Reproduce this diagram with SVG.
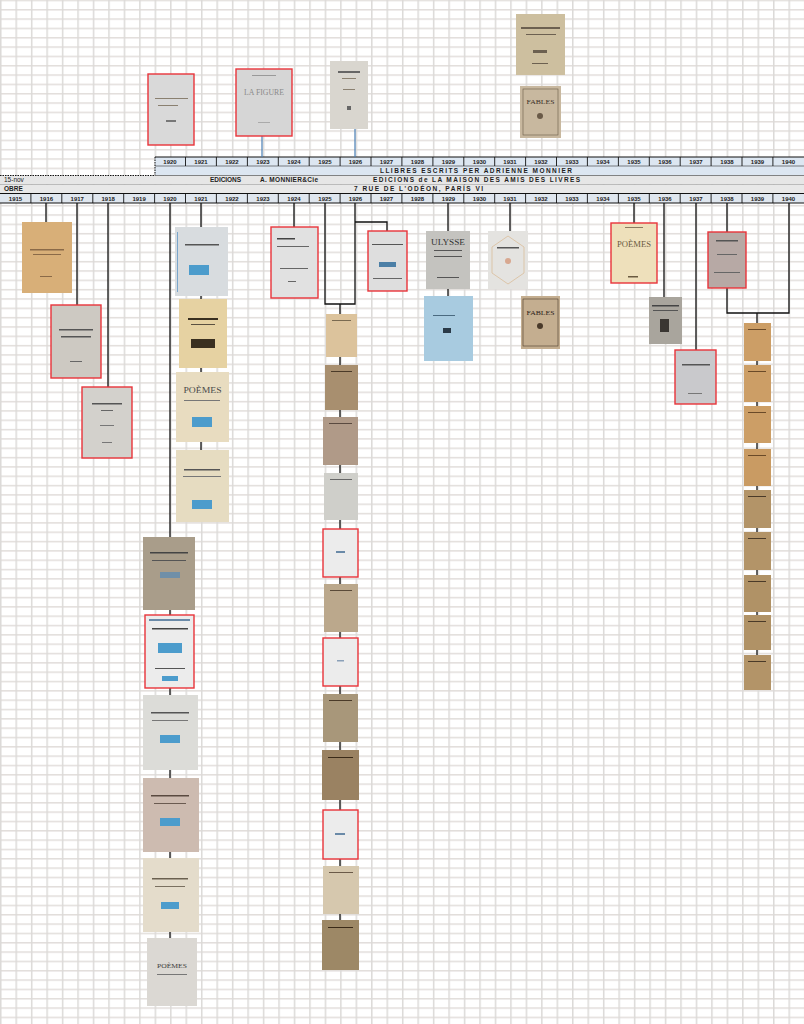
<svg xmlns="http://www.w3.org/2000/svg" width="804" height="1024" viewBox="0 0 804 1024">
<style>
.yr{font-family:"Liberation Sans",Arial,sans-serif;font-size:6px;font-weight:bold;fill:#222;text-anchor:middle}
.hd{font-family:"Liberation Sans",Arial,sans-serif;font-size:6.5px;font-weight:bold;fill:#1e1e1e}
.cn{fill:none;stroke:#111;stroke-width:1.3}
.bl{fill:none;stroke:#4a7fb5;stroke-width:1.2}
.bk{stroke:none}
.red{stroke:#e8343a;stroke-width:1.4}
.ttl{font-family:"Liberation Serif","Times New Roman",serif;text-anchor:middle}
.pr{fill:#8a8070}
.stamp{fill:#4c9ccc}
.div{stroke:#111;stroke-width:0.9}
</style>
<defs>
<pattern id="grid" patternUnits="userSpaceOnUse" x="0" y="-0.33" width="15.46" height="9.33">
<rect x="0" y="0" width="15.46" height="9.33" fill="#ffffff"/>
<rect x="0" y="0" width="15.46" height="1.5" fill="#e2dedb"/>
<rect x="0" y="0" width="1.5" height="9.33" fill="#dcdad8"/>
</pattern>
</defs>
<rect x="0" y="0" width="804" height="1024" fill="url(#grid)"/>

<g id="header">
<rect x="155" y="157" width="649" height="9" fill="#dce6f1"/>
<rect x="155" y="166" width="649" height="9.5" fill="#dce6f1"/>
<rect x="0" y="175.5" width="804" height="9" fill="#e6e6e6"/>
<rect x="0" y="184.5" width="804" height="9" fill="#e8e8e8"/>
<rect x="0" y="193.5" width="804" height="9.5" fill="#dfe6ee"/>
<line x1="155" y1="157" x2="804" y2="157" stroke="#111" stroke-width="1.2"/>
<line x1="155" y1="166" x2="804" y2="166" stroke="#333" stroke-width="0.6"/>
<line x1="155" y1="157" x2="155" y2="175.5" stroke="#111" stroke-width="1" stroke-dasharray="1.5 1"/>
<line x1="0" y1="175.5" x2="155" y2="175.5" stroke="#111" stroke-width="1" stroke-dasharray="1.5 1"/>
<line x1="155" y1="175.5" x2="804" y2="175.5" stroke="#555" stroke-width="0.7"/>
<line x1="0" y1="184.5" x2="804" y2="184.5" stroke="#999" stroke-width="0.6"/>
<line x1="0" y1="193.5" x2="804" y2="193.5" stroke="#111" stroke-width="1"/>
<line x1="0" y1="203" x2="804" y2="203" stroke="#111" stroke-width="1"/>
<g class="div">
<line x1="185.5" y1="157" x2="185.5" y2="166"/><line x1="216.4" y1="157" x2="216.4" y2="166"/><line x1="247.4" y1="157" x2="247.4" y2="166"/><line x1="278.3" y1="157" x2="278.3" y2="166"/><line x1="309.2" y1="157" x2="309.2" y2="166"/><line x1="340.1" y1="157" x2="340.1" y2="166"/><line x1="371" y1="157" x2="371" y2="166"/><line x1="401.9" y1="157" x2="401.9" y2="166"/><line x1="432.9" y1="157" x2="432.9" y2="166"/><line x1="463.8" y1="157" x2="463.8" y2="166"/><line x1="494.7" y1="157" x2="494.7" y2="166"/><line x1="525.6" y1="157" x2="525.6" y2="166"/><line x1="556.5" y1="157" x2="556.5" y2="166"/><line x1="587.4" y1="157" x2="587.4" y2="166"/><line x1="618.4" y1="157" x2="618.4" y2="166"/><line x1="649.3" y1="157" x2="649.3" y2="166"/><line x1="680.2" y1="157" x2="680.2" y2="166"/><line x1="711.1" y1="157" x2="711.1" y2="166"/><line x1="742" y1="157" x2="742" y2="166"/><line x1="772.9" y1="157" x2="772.9" y2="166"/>
<line x1="30.9" y1="193.5" x2="30.9" y2="203"/><line x1="61.8" y1="193.5" x2="61.8" y2="203"/><line x1="92.8" y1="193.5" x2="92.8" y2="203"/><line x1="123.7" y1="193.5" x2="123.7" y2="203"/><line x1="154.6" y1="193.5" x2="154.6" y2="203"/><line x1="185.5" y1="193.5" x2="185.5" y2="203"/><line x1="216.4" y1="193.5" x2="216.4" y2="203"/><line x1="247.4" y1="193.5" x2="247.4" y2="203"/><line x1="278.3" y1="193.5" x2="278.3" y2="203"/><line x1="309.2" y1="193.5" x2="309.2" y2="203"/><line x1="340.1" y1="193.5" x2="340.1" y2="203"/><line x1="371" y1="193.5" x2="371" y2="203"/><line x1="401.9" y1="193.5" x2="401.9" y2="203"/><line x1="432.9" y1="193.5" x2="432.9" y2="203"/><line x1="463.8" y1="193.5" x2="463.8" y2="203"/><line x1="494.7" y1="193.5" x2="494.7" y2="203"/><line x1="525.6" y1="193.5" x2="525.6" y2="203"/><line x1="556.5" y1="193.5" x2="556.5" y2="203"/><line x1="587.4" y1="193.5" x2="587.4" y2="203"/><line x1="618.4" y1="193.5" x2="618.4" y2="203"/><line x1="649.3" y1="193.5" x2="649.3" y2="203"/><line x1="680.2" y1="193.5" x2="680.2" y2="203"/><line x1="711.1" y1="193.5" x2="711.1" y2="203"/><line x1="742" y1="193.5" x2="742" y2="203"/><line x1="772.9" y1="193.5" x2="772.9" y2="203"/>
</g>
<g class="yr">
<text x="170" y="163.8">1920</text><text x="201" y="163.8">1921</text><text x="232" y="163.8">1922</text><text x="263" y="163.8">1923</text><text x="294" y="163.8">1924</text><text x="325" y="163.8">1925</text><text x="355.5" y="163.8">1926</text><text x="386.5" y="163.8">1927</text><text x="417.5" y="163.8">1928</text><text x="448.5" y="163.8">1929</text><text x="479.5" y="163.8">1930</text><text x="510" y="163.8">1931</text><text x="541" y="163.8">1932</text><text x="572" y="163.8">1933</text><text x="603" y="163.8">1934</text><text x="634" y="163.8">1935</text><text x="665" y="163.8">1936</text><text x="696" y="163.8">1937</text><text x="727" y="163.8">1938</text><text x="757.5" y="163.8">1939</text><text x="788.5" y="163.8">1940</text>
<text x="15.5" y="200.8">1915</text><text x="46.4" y="200.8">1916</text><text x="77.3" y="200.8">1917</text><text x="108.2" y="200.8">1918</text><text x="139.1" y="200.8">1919</text><text x="170" y="200.8">1920</text><text x="201" y="200.8">1921</text><text x="232" y="200.8">1922</text><text x="263" y="200.8">1923</text><text x="294" y="200.8">1924</text><text x="325" y="200.8">1925</text><text x="355.5" y="200.8">1926</text><text x="386.5" y="200.8">1927</text><text x="417.5" y="200.8">1928</text><text x="448.5" y="200.8">1929</text><text x="479.5" y="200.8">1930</text><text x="510" y="200.8">1931</text><text x="541" y="200.8">1932</text><text x="572" y="200.8">1933</text><text x="603" y="200.8">1934</text><text x="634" y="200.8">1935</text><text x="665" y="200.8">1936</text><text x="696" y="200.8">1937</text><text x="727" y="200.8">1938</text><text x="757.5" y="200.8">1939</text><text x="788.5" y="200.8">1940</text>
</g>
<text class="hd" x="380" y="173" textLength="192" lengthAdjust="spacing">LLIBRES ESCRITS PER   ADRIENNE MONNIER</text>
<text class="hd" x="4" y="182.3" style="font-weight:normal">15-nov</text>
<text class="hd" x="210" y="182.3" textLength="31" lengthAdjust="spacing">EDICIONS</text>
<text class="hd" x="260" y="182.3" textLength="58" lengthAdjust="spacing">A. MONNIER&amp;Cie</text>
<text class="hd" x="373" y="182.3" textLength="207" lengthAdjust="spacing">EDICIONS de LA MAISON DES AMIS DES LIVRES</text>
<text class="hd" x="4" y="191.3">OBRE</text>
<text class="hd" x="354" y="191.3" textLength="129" lengthAdjust="spacing">7 RUE DE L'ODÉON,  PARÍS VI</text>
</g>

<g id="connectors">
<path class="bl" d="M262,136 V157 M355,129 V157"/>
<path class="cn" d="M46,203 V222 M77,203 V305 M108,203 V387"/>
<path class="cn" d="M170,203 V940 M201,203 V452 M294,203 V227"/>
<path class="cn" d="M325,203 V304 H355 V203 M340,304 V922 M355,222 H387 V231"/>
<path class="cn" d="M448,203 V297 M510,203 V231"/>
<path class="cn" d="M634,203 V223 M664,203 V297 M696,203 V350"/>
<path class="cn" d="M727,203 V313 H789 V203 M757,313 V655"/>
</g>

<g id="top-1920"><rect class="bk red" x="148" y="74" width="46" height="71" fill="#d9d9d9"/><rect x="155" y="98" width="33" height="1" class="pr"/><rect x="158" y="105" width="20" height="1" class="pr"/><rect x="166" y="120" width="10" height="2" fill="#777"/></g>
<g id="top-1923"><rect class="bk red" x="236" y="69" width="56" height="67" fill="#d6d6d6"/><rect x="252" y="75" width="24" height="1" fill="#999"/><text class="ttl" x="264" y="95" font-size="9" fill="#8a8a8a" textLength="40" lengthAdjust="spacingAndGlyphs">LA FIGURE</text><rect x="258" y="122" width="12" height="1" fill="#aaa"/></g>
<g id="top-1926"><rect class="bk" x="330" y="61" width="38" height="68" fill="#d9d6cf"/><rect x="338" y="71" width="22" height="2" fill="#666"/><rect x="342" y="78" width="14" height="1" class="pr"/><rect x="343" y="89" width="12" height="1" class="pr"/><rect x="347" y="106" width="4" height="4" fill="#666"/></g>
<g id="top-1932a"><rect class="bk" x="516" y="14" width="49" height="61" fill="#cdbf9f"/><rect x="521" y="27" width="39" height="2" fill="#6c6050"/><rect x="526" y="34" width="30" height="1" fill="#6c6050"/><rect x="533" y="50" width="14" height="3" fill="#6c6050"/><rect x="532" y="63" width="16" height="1" fill="#6c6050"/></g>
<g id="top-1932b"><rect class="bk" x="520" y="86" width="41" height="52" fill="#c8b89f"/><rect x="523" y="89" width="35" height="46" fill="none" stroke="#6a5a48" stroke-width="0.6"/><text class="ttl" x="540.5" y="104" font-size="7" fill="#3a3028" textLength="28" lengthAdjust="spacingAndGlyphs">FABLES</text><circle cx="540" cy="116" r="3" fill="#6a5a48"/></g>

<g id="b1916"><rect class="bk" x="22" y="222" width="50" height="71" fill="#d8af78"/><rect x="30" y="249" width="34" height="1.5" fill="#8a6a48"/><rect x="33" y="254" width="28" height="1" fill="#8a6a48"/><rect x="40" y="276" width="12" height="1" fill="#8a6a48"/></g>
<g id="b1917"><rect class="bk red" x="51" y="305" width="50" height="73" fill="#cdc9c2"/><rect x="59" y="329" width="34" height="1.5" fill="#555"/><rect x="61" y="336" width="30" height="1.5" fill="#555"/><rect x="70" y="361" width="12" height="1" fill="#666"/></g>
<g id="b1918"><rect class="bk red" x="82" y="387" width="50" height="71" fill="#d3d1cc"/><rect x="92" y="403" width="30" height="1.5" fill="#555"/><rect x="101" y="410" width="12" height="1" fill="#666"/><rect x="100" y="425" width="14" height="1" fill="#777"/><rect x="102" y="442" width="10" height="1" fill="#777"/></g>

<g id="b1920-1"><rect class="bk" x="143" y="537" width="52" height="73" fill="#a99d8a"/><rect x="150" y="552" width="38" height="1.5" fill="#444"/><rect x="152" y="560" width="34" height="1" fill="#555"/><rect x="160" y="572" width="20" height="6" fill="#6f8fa8"/></g>
<g id="b1920-2"><rect class="bk red" x="145" y="615" width="49" height="73" fill="#ececec"/><rect x="149" y="619" width="41" height="2" fill="#6a8aa8"/><rect x="152" y="628" width="36" height="1.5" fill="#444"/><rect x="158" y="643" width="24" height="10" class="stamp"/><rect x="155" y="668" width="30" height="1" fill="#555"/><rect x="162" y="676" width="16" height="5" class="stamp"/></g>
<g id="b1920-3"><rect class="bk" x="143" y="695" width="55" height="75" fill="#dcdcd8"/><rect x="151" y="712" width="38" height="1.5" fill="#555"/><rect x="152" y="720" width="36" height="1" fill="#777"/><rect x="160" y="735" width="20" height="8" class="stamp"/></g>
<g id="b1920-4"><rect class="bk" x="143" y="778" width="56" height="74" fill="#cdbbb0"/><rect x="151" y="795" width="38" height="1.5" fill="#5a4a40"/><rect x="154" y="803" width="32" height="1" fill="#6a5a50"/><rect x="160" y="818" width="20" height="8" class="stamp"/></g>
<g id="b1920-5"><rect class="bk" x="143" y="858" width="56" height="74" fill="#e4dccb"/><rect x="152" y="878" width="36" height="1.5" fill="#6a6050"/><rect x="155" y="886" width="30" height="1" fill="#7a7060"/><rect x="161" y="902" width="18" height="7" class="stamp"/></g>
<g id="b1920-6"><rect class="bk" x="147" y="938" width="50" height="68" fill="#dbd8d3"/><text class="ttl" x="172" y="968" font-size="7" fill="#3c3c3c" textLength="30" lengthAdjust="spacingAndGlyphs">POÈMES</text><rect x="157" y="974" width="30" height="1" fill="#777"/></g>

<g id="b1921-1"><rect class="bk" x="175" y="227" width="53" height="69" fill="#d8dcdf"/><rect x="177" y="232" width="1" height="60" fill="#7aa6cc"/><rect x="185" y="244" width="34" height="1.5" fill="#555"/><rect x="189" y="265" width="20" height="10" class="stamp"/></g>
<g id="b1921-2"><rect class="bk" x="179" y="299" width="48" height="69" fill="#e6d2a2"/><rect x="188" y="318" width="30" height="2" fill="#3a3020"/><rect x="191" y="324" width="24" height="1" fill="#5a5040"/><rect x="191" y="339" width="24" height="9" fill="#3a3020"/></g>
<g id="b1921-3"><rect class="bk" x="176" y="372" width="53" height="70" fill="#e8dcc0"/><text class="ttl" x="202.5" y="393" font-size="9" fill="#4a4a4a" textLength="38" lengthAdjust="spacingAndGlyphs">POÈMES</text><rect x="184" y="400" width="36" height="1" fill="#777"/><rect x="192" y="417" width="20" height="10" class="stamp"/></g>
<g id="b1921-4"><rect class="bk" x="176" y="450" width="53" height="72" fill="#e6dcc1"/><rect x="184" y="469" width="36" height="1.5" fill="#555"/><rect x="183" y="476" width="38" height="1" fill="#777"/><rect x="192" y="500" width="20" height="9" class="stamp"/></g>

<g id="b1924"><rect class="bk red" x="271" y="227" width="47" height="71" fill="#e1e1e1"/><rect x="277" y="238" width="18" height="1.5" fill="#444"/><rect x="277" y="246" width="32" height="1" fill="#666"/><rect x="280" y="268" width="28" height="1" fill="#666"/><rect x="288" y="281" width="8" height="1" fill="#666"/></g>
<g id="b1926-side"><rect class="bk red" x="368" y="231" width="39" height="60" fill="#dedede"/><rect x="372" y="244" width="31" height="1" fill="#555"/><rect x="379" y="262" width="17" height="5" fill="#4c7fa6"/><rect x="373" y="278" width="29" height="1" fill="#666"/></g>

<g id="c1"><rect class="bk" x="326" y="314" width="31" height="43" fill="#dcc39c"/><rect x="332" y="320" width="19" height="1" fill="#7a6a50"/></g>
<g id="c2"><rect class="bk" x="325" y="365" width="33" height="45" fill="#a88f6f"/><rect x="331" y="371" width="21" height="1" fill="#4a3a28"/></g>
<g id="c3"><rect class="bk" x="323" y="417" width="35" height="48" fill="#b09a88"/><rect x="329" y="423" width="23" height="1" fill="#5a4a40"/></g>
<g id="c4"><rect class="bk" x="324" y="473" width="34" height="47" fill="#cfcfca"/><rect x="330" y="479" width="22" height="1" fill="#666"/></g>
<g id="c5"><rect class="bk red" x="323" y="529" width="35" height="48" fill="#ececec"/><rect x="336" y="551" width="9" height="2" fill="#6a8aa8"/></g>
<g id="c6"><rect class="bk" x="324" y="584" width="34" height="48" fill="#bba88c"/><rect x="330" y="590" width="22" height="1" fill="#5a4a38"/></g>
<g id="c7"><rect class="bk red" x="323" y="638" width="35" height="48" fill="#ececec"/><rect x="337" y="660" width="7" height="1.5" fill="#8aa0b8"/></g>
<g id="c8"><rect class="bk" x="323" y="694" width="35" height="48" fill="#a8977a"/><rect x="329" y="700" width="23" height="1" fill="#4a3a28"/></g>
<g id="c9"><rect class="bk" x="322" y="750" width="37" height="50" fill="#9a8262"/><rect x="328" y="757" width="25" height="1" fill="#3a2a18"/></g>
<g id="c10"><rect class="bk red" x="323" y="810" width="35" height="49" fill="#ececec"/><rect x="335" y="833" width="10" height="2" fill="#6a8aa8"/></g>
<g id="c11"><rect class="bk" x="323" y="866" width="36" height="48" fill="#d6c8ae"/><rect x="329" y="872" width="24" height="1" fill="#6a5a48"/></g>
<g id="c12"><rect class="bk" x="322" y="920" width="37" height="50" fill="#9d8866"/><rect x="328" y="927" width="25" height="1" fill="#3a2a18"/></g>

<g id="b1929-1"><rect class="bk" x="426" y="231" width="44" height="58" fill="#c4c3bf" stroke="#5a9ad0" stroke-width="1"/><text class="ttl" x="448" y="245" font-size="7.5" fill="#333" textLength="34" lengthAdjust="spacingAndGlyphs">ULYSSE</text><rect x="434" y="250" width="28" height="1" fill="#555"/><rect x="434" y="256" width="28" height="1" fill="#555"/><rect x="437" y="277" width="22" height="1" fill="#555"/></g>
<g id="b1929-2"><rect class="bk" x="424" y="296" width="49" height="65" fill="#a8cbe0"/><rect x="433" y="315" width="22" height="1" fill="#4a6a80"/><rect x="443" y="328" width="8" height="5" fill="#2a3a48"/></g>
<g id="b1931-1"><rect class="bk" x="488" y="231" width="40" height="58" fill="#e4e3e0"/><path d="M508,236 L524,247 L524,273 L508,284 L492,273 L492,247 Z" fill="none" stroke="#d8b890" stroke-width="0.7"/><rect x="497" y="247" width="22" height="1.5" fill="#555"/><circle cx="508" cy="261" r="3" fill="#d8a890"/></g>
<g id="b1931-2"><rect class="bk" x="521" y="296" width="39" height="53" fill="#c4ae90"/><rect x="523" y="299" width="35" height="47" fill="none" stroke="#4a3a2a" stroke-width="0.6"/><text class="ttl" x="540.5" y="315" font-size="7" fill="#2a2018" textLength="28" lengthAdjust="spacingAndGlyphs">FABLES</text><circle cx="540" cy="326" r="3" fill="#4a3a2a"/></g>

<g id="b1935"><rect class="bk red" x="611" y="223" width="46" height="60" fill="#eee0bb"/><rect x="625" y="227" width="18" height="1" fill="#8a7a60"/><text class="ttl" x="634" y="247" font-size="9" fill="#6a5a40" textLength="34" lengthAdjust="spacingAndGlyphs">POÈMES</text><rect x="628" y="276" width="10" height="1.5" fill="#6a5a40"/></g>
<g id="b1936"><rect class="bk" x="649" y="297" width="33" height="47" fill="#a9a59d"/><rect x="652" y="305" width="27" height="1.5" fill="#444"/><rect x="653" y="310" width="25" height="1" fill="#555"/><rect x="660" y="319" width="9" height="13" fill="#3a3632"/></g>
<g id="b1937"><rect class="bk red" x="675" y="350" width="41" height="54" fill="#c9c9cc"/><rect x="682" y="364" width="28" height="1.5" fill="#555"/><rect x="688" y="393" width="14" height="1" fill="#777"/></g>
<g id="b1938"><rect class="bk red" x="708" y="232" width="38" height="56" fill="#b7a9a5"/><rect x="716" y="240" width="22" height="1.5" fill="#555"/><rect x="717" y="254" width="20" height="1" fill="#666"/><rect x="714" y="272" width="26" height="1" fill="#666"/></g>

<g id="r1"><rect class="bk" x="744" y="323" width="27" height="38" fill="#cc9e66"/><rect x="748" y="329" width="18" height="1" fill="#6a4a28"/></g>
<g id="r2"><rect class="bk" x="744" y="365" width="27" height="37" fill="#cc9e66"/><rect x="748" y="371" width="18" height="1" fill="#6a4a28"/></g>
<g id="r3"><rect class="bk" x="744" y="406" width="27" height="37" fill="#cc9e66"/><rect x="748" y="412" width="18" height="1" fill="#6a4a28"/></g>
<g id="r4"><rect class="bk" x="744" y="449" width="27" height="37" fill="#c99b63"/><rect x="748" y="455" width="18" height="1" fill="#6a4a28"/></g>
<g id="r5"><rect class="bk" x="744" y="490" width="27" height="38" fill="#b39468"/><rect x="748" y="496" width="18" height="1" fill="#4a3a28"/></g>
<g id="r6"><rect class="bk" x="744" y="532" width="27" height="38" fill="#b39468"/><rect x="748" y="538" width="18" height="1" fill="#4a3a28"/></g>
<g id="r7"><rect class="bk" x="744" y="575" width="27" height="37" fill="#b09266"/><rect x="748" y="581" width="18" height="1" fill="#4a3a28"/></g>
<g id="r8"><rect class="bk" x="744" y="615" width="27" height="35" fill="#b09266"/><rect x="748" y="621" width="18" height="1" fill="#4a3a28"/></g>
<g id="r9"><rect class="bk" x="744" y="655" width="27" height="35" fill="#b39468"/><rect x="748" y="661" width="18" height="1" fill="#4a3a28"/></g>
</svg>
